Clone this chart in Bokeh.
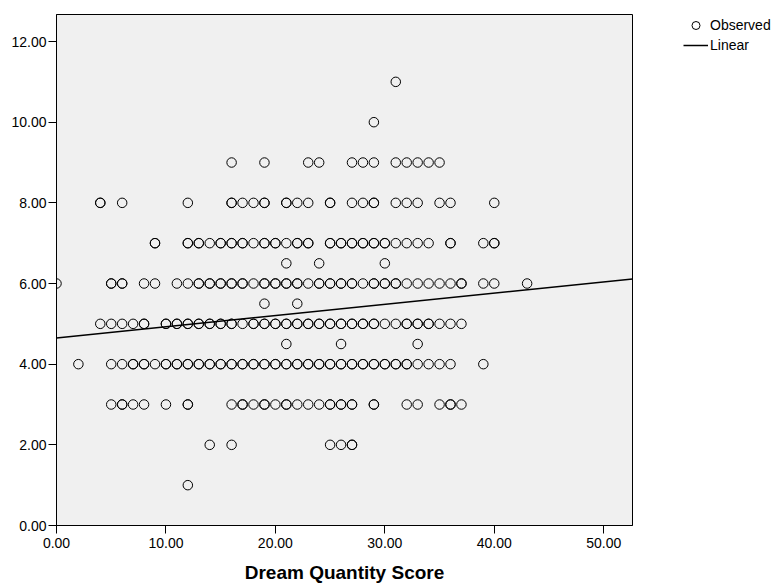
import numpy as np
from bokeh.plotting import figure
from bokeh.layouts import row
from bokeh.models import Range1d, FixedTicker, NumeralTickFormatter, Legend, LegendItem, ColumnDataSource
from bokeh.embed import file_html
from bokeh.resources import INLINE

# Observed Dream Quantity Score values at each outcome level (repeats = overlapping points)
x_at_1 = [12]
x_at_2 = [14, 16, 25, 26, 27, 27]
x_at_3 = [5, 6, 6, 7, 8, 10, 12, 12, 16, 17, 17, 18, 19, 19, 20, 21, 21, 22, 23, 24,
          25, 25, 26, 26, 27, 27, 29, 29, 32, 33, 35, 36, 36, 37]
x_at_4 = [2, 5, 6, 7, 7, 8, 8, 9, 10, 10, 11, 11, 12, 12, 13, 13, 14, 14, 15, 15, 16, 16,
          17, 17, 18, 18, 19, 19, 20, 20, 21, 21, 22, 22, 23, 23, 24, 24, 25, 25, 26, 26,
          27, 27, 28, 28, 29, 29, 30, 30, 31, 31, 32, 32, 33, 34, 35, 36, 39]
x_at_4_5 = [21, 26, 33]
x_at_5 = [4, 5, 6, 7, 8, 8, 10, 10, 11, 11, 12, 12, 13, 13, 14, 14, 15, 15, 16, 16, 17,
          18, 18, 19, 19, 20, 20, 21, 21, 22, 22, 23, 23, 24, 24, 25, 25, 26, 26, 27, 27,
          28, 28, 29, 29, 30, 31, 32, 32, 33, 33, 34, 34, 35, 36, 37]
x_at_5_5 = [19, 22]
x_at_6 = [0, 5, 5, 6, 6, 8, 9, 11, 12, 13, 13, 14, 14, 15, 15, 16, 16, 17, 17, 18, 19,
          19, 20, 20, 21, 21, 22, 22, 23, 24, 24, 25, 25, 26, 26, 27, 27, 28, 29, 29, 30,
          30, 31, 31, 32, 33, 34, 35, 36, 37, 37, 39, 40, 43]
x_at_6_5 = [21, 24, 30]
x_at_7 = [9, 9, 12, 12, 13, 13, 14, 15, 15, 16, 16, 17, 17, 18, 19, 19, 20, 20, 21, 22,
          22, 23, 23, 25, 25, 26, 26, 27, 27, 28, 28, 29, 29, 30, 30, 31, 32, 33, 34, 36,
          36, 39, 40, 40]
x_at_8 = [4, 4, 6, 12, 16, 16, 17, 18, 19, 19, 21, 21, 22, 23, 25, 25, 27, 28, 29, 29,
          31, 32, 33, 35, 36, 40]
x_at_9 = [16, 19, 23, 24, 27, 28, 29, 31, 32, 33, 34, 35]
x_at_10 = [29]
x_at_11 = [31]

y_levels = [1.0, 2.0, 3.0, 4.0, 4.5, 5.0, 5.5, 6.0, 6.5, 7.0, 8.0, 9.0, 10.0, 11.0]
x_lists = [x_at_1, x_at_2, x_at_3, x_at_4, x_at_4_5, x_at_5, x_at_5_5, x_at_6, x_at_6_5,
           x_at_7, x_at_8, x_at_9, x_at_10, x_at_11]

# Linear fit
fit_intercept = 4.65
fit_slope = 0.0278

x_ticks = [0, 10, 20, 30, 40, 50]
y_ticks = [0, 2, 4, 6, 8, 10, 12]
x_max = 52.63
y_max = 12.67

legend_labels = ["Observed", "Linear"]

obs_x, obs_y = [], []
for yv, lst in zip(y_levels, x_lists):
    obs_x += lst
    obs_y += [yv] * len(lst)

src = ColumnDataSource(dict(x=obs_x, y=obs_y))
fit_x = [0, x_max]
fit_y = [fit_intercept + fit_slope * v for v in fit_x]

FONT = "Liberation Sans"
MARKER = dict(marker="circle", size=9.5, fill_alpha=0, line_color="black", line_width=1)
LINE = dict(line_color="black", line_width=1.5)

p = figure(width=640, height=588, x_range=Range1d(0, x_max), y_range=Range1d(0, y_max),
           output_backend="svg", toolbar_location=None,
           min_border_left=56, min_border_right=8, min_border_top=14, min_border_bottom=63)

p.background_fill_color = "#f0f0f0"
p.border_fill_color = "white"
p.outline_line_color = "black"
p.outline_line_width = 1
p.grid.visible = False

p.scatter("x", "y", source=src, **MARKER)
p.line(fit_x, fit_y, **LINE)

for ax in (p.xaxis[0], p.yaxis[0]):
    ax.major_tick_out = 8
    ax.major_tick_in = 0
    ax.minor_tick_out = 0
    ax.minor_tick_in = 0
    ax.axis_line_color = "black"
    ax.major_tick_line_color = "black"
    ax.major_label_text_font = FONT
    ax.major_label_text_font_size = "14px"
    ax.major_label_text_color = "black"
    ax.formatter = NumeralTickFormatter(format="0.00")

p.xaxis[0].ticker = FixedTicker(ticks=x_ticks)
p.yaxis[0].ticker = FixedTicker(ticks=y_ticks)
p.xaxis[0].major_label_standoff = 4
p.yaxis[0].major_label_standoff = 2

p.xaxis[0].axis_label = "Dream Quantity Score"
p.xaxis[0].axis_label_text_font = FONT
p.xaxis[0].axis_label_text_font_style = "bold"
p.xaxis[0].axis_label_text_font_size = "19px"
p.xaxis[0].axis_label_text_color = "black"
p.xaxis[0].axis_label_standoff = 11

# Legend panel to the right of the plot frame (proxies reuse the data, kept out of view)
lg = figure(width=137, height=588, x_range=Range1d(-2, -1), y_range=Range1d(-2, -1),
            output_backend="svg", toolbar_location=None,
            x_axis_location=None, y_axis_location=None,
            min_border_left=42, min_border_right=0, min_border_top=6, min_border_bottom=0)
lg.outline_line_color = None
lg.grid.visible = False
lg.background_fill_color = "white"
lg.border_fill_color = "white"
r_obs = lg.scatter("x", "y", source=src, **MARKER)
r_lin = lg.line(fit_x, fit_y, **LINE)

legend = Legend(items=[LegendItem(label=legend_labels[0], renderers=[r_obs]),
                       LegendItem(label=legend_labels[1], renderers=[r_lin])],
                location="top_left", margin=0, padding=1, spacing=0,
                glyph_width=25, glyph_height=20, label_height=20, label_standoff=2,
                label_text_font=FONT, label_text_font_size="14px", label_text_color="black",
                background_fill_alpha=0, border_line_alpha=0)
lg.add_layout(legend, "center")

layout = row(p, lg, spacing=0)
open("out.html", "w").write(file_html(layout, INLINE))
